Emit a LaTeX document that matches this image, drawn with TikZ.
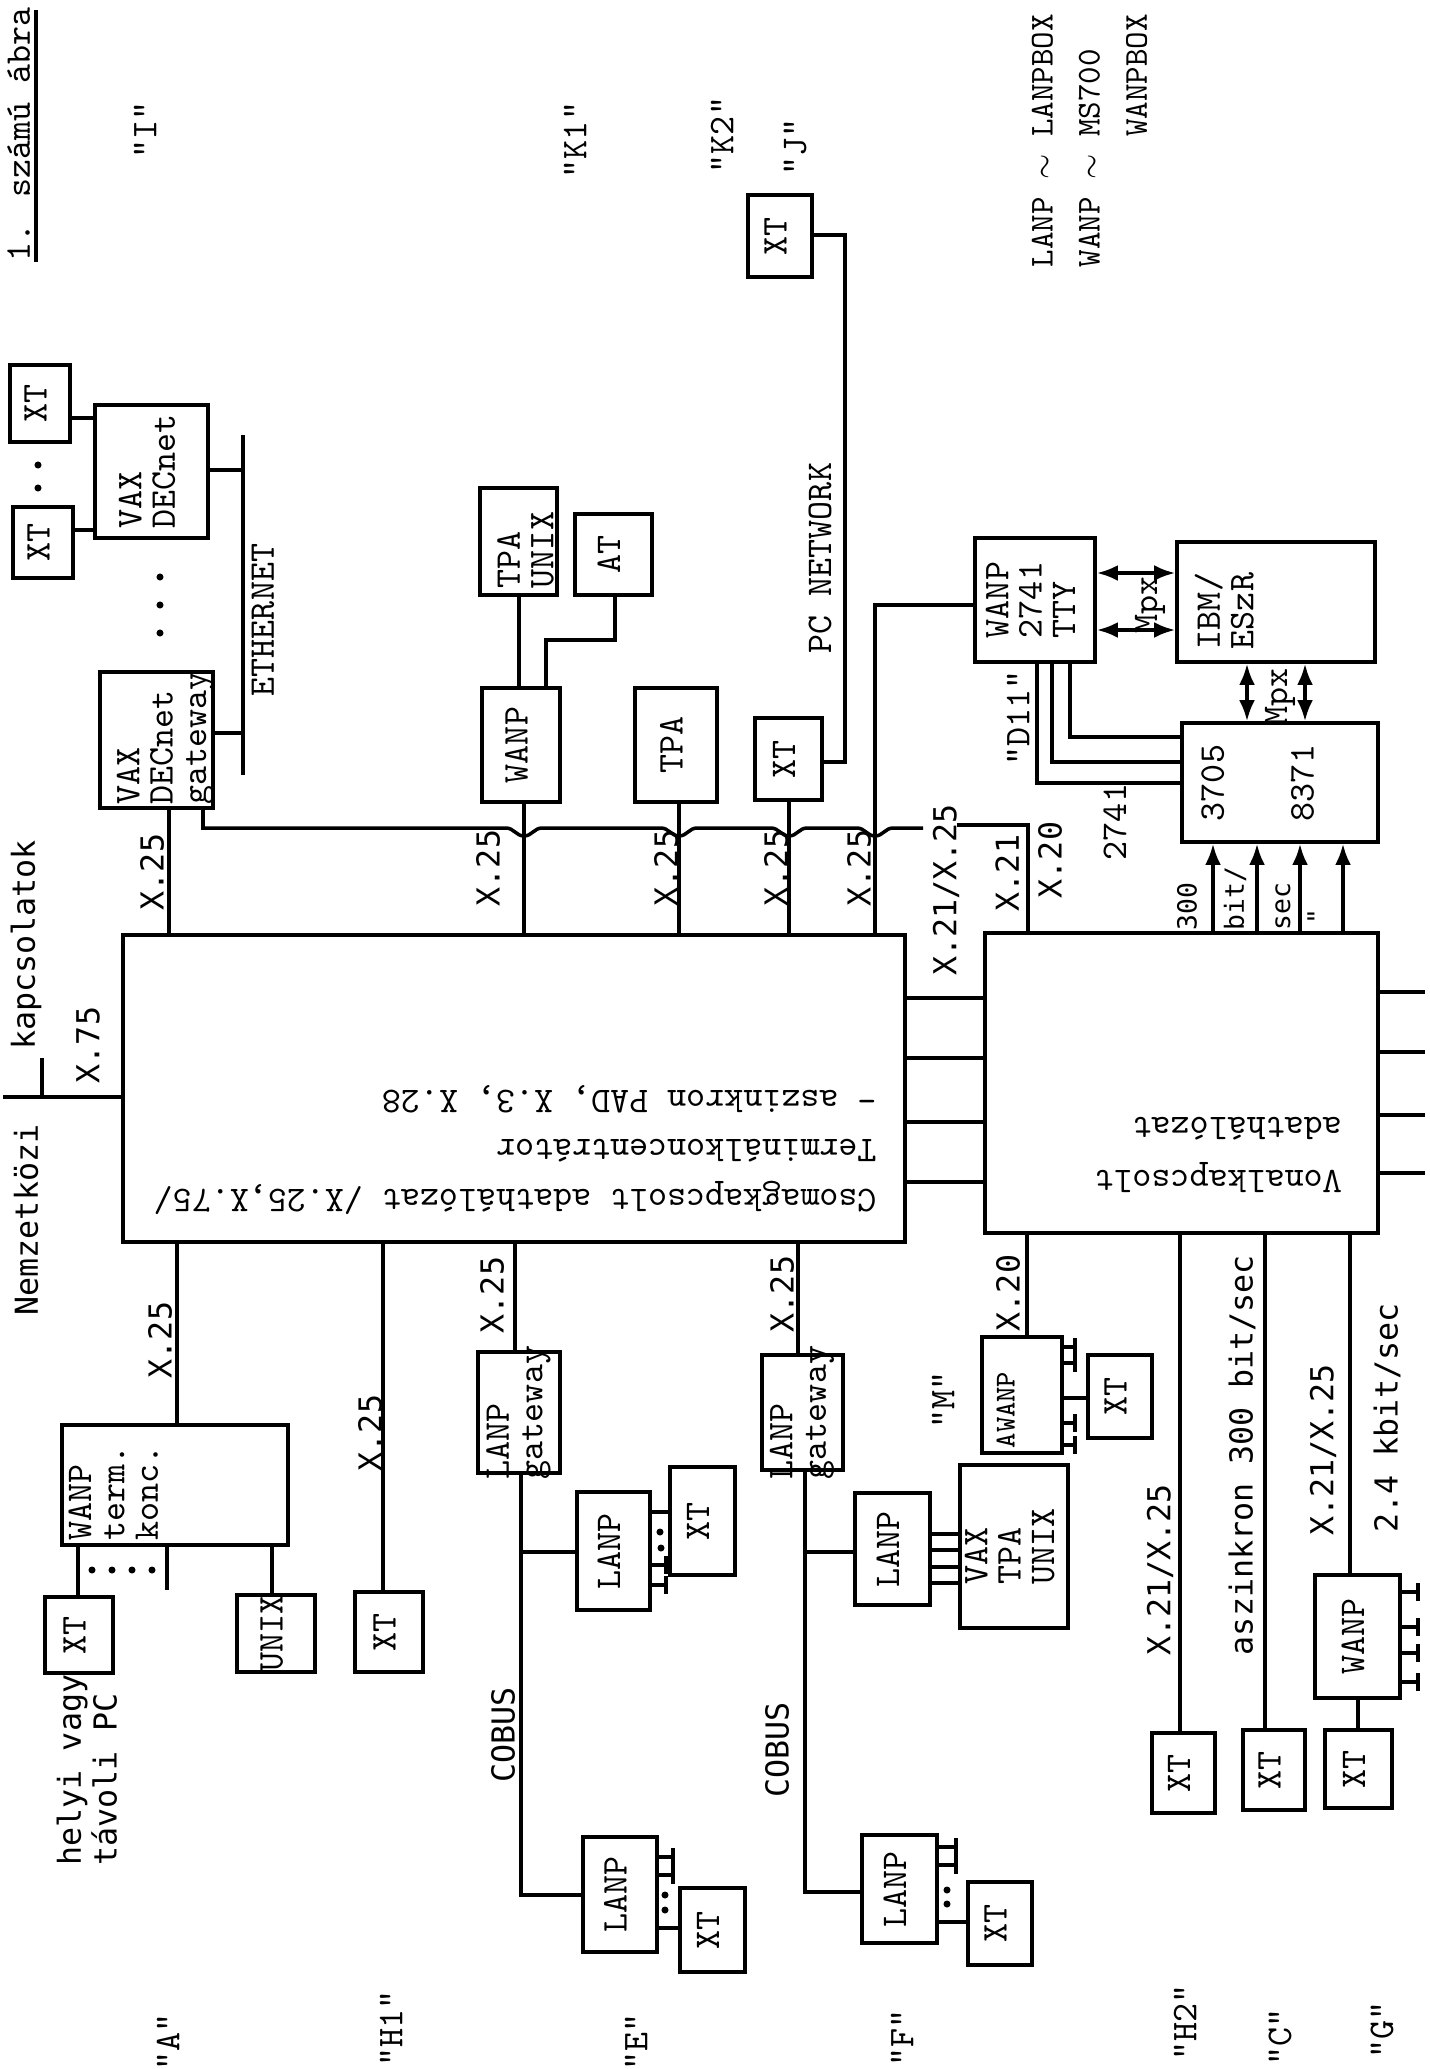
\documentclass[tikz,border=0pt]{standalone}
\usepackage{fontspec}
\usetikzlibrary{arrows.meta, fit}
\newfontfamily\gothicfont{DejaVu Sans Mono}
\newcommand{\boxfont}{\ttfamily\fontsize{10.3}{9.5}\selectfont}
\newcommand{\lblfont}{\gothicfont\fontsize{9}{9}\selectfont}
\newcommand{\up}[1]{\rotatebox{90}{\begin{tabular}{@{}l@{}}#1\end{tabular}}}
\tikzset{
    >={Latex[length=6pt,width=4.5pt]},
    % Lines
    wire/.style={line width=1pt},
    link/.style={wire, <->},
    feed/.style={wire, ->},
    stub/.style={wire, -{Bar[width=5pt]}},
    % Boxes
    blk/.style={draw, line width=1pt, inner sep=0pt, font=\boxfont},
    txt/.style={label={[tag]center:\up{#1}}},
    % Texts
    tag/.style={inner sep=0pt, font=\boxfont},
    rtag/.style={tag, rotate=90},
    lbl/.style={inner sep=0pt, font=\lblfont, rotate=90},
    small/.style={lbl, font=\gothicfont\fontsize{7.5}{7.5}\selectfont}
}

\begin{document}
\begin{tikzpicture}[x=0.01cm, y=-0.01cm]
\useasboundingbox (0,0) rectangle (1430,2069);

% title
\node[rtag, anchor=base west] (title) at (30,262) {1. számú ábra};
\draw[wire] (36,262) -- (36,10);

% group letters
\node[rtag] (colI) at (145,130) {"I"};
\node[rtag] (colKa) at (575,140) {"K1"};
\node[rtag] (colKb) at (722,135) {"K2"};
\node[rtag] (colJ) at (795,147) {"J"};
\node[rtag] (colA) at (168,2042) {"A"};
\node[rtag] (colHa) at (391,2028) {"H1"};
\node[rtag] (colE) at (636,2042) {"E"};
\node[rtag] (colF) at (902,2038) {"F"};
\node[rtag] (colHb) at (1185,2022) {"H2"};
\node[rtag] (colC) at (1280,2037) {"C"};
\node[rtag] (colG) at (1382,2030) {"G"};
\node[rtag] (colM) at (943,1400) {"M"};
\node[rtag] (colD) at (1018,718) {"D11"};

% legend
\node[rtag, anchor=north west, align=left, font=\ttfamily\fontsize{9.5}{13.4}\selectfont] (legend) at (1031,268)
    {LANP $\sim$ LANPBOX\\WANP $\sim$ MS700\\\phantom{WANP $\sim$ }WANPBOX};

% the two networks
\node[blk, fit={(123,935) (905,1242)}] (main) {};
\node[tag, rotate=180, align=left, font=\ttfamily\fontsize{10.3}{14.2}\selectfont] (mainTxt) at (515,1150)
    {Csomagkapcsolt adathálózat /X.25,X.75/\\Terminálkoncentrátor\\- aszinkron PAD, X.3, X.28};
\node[blk, fit={(985,933) (1378,1233)}] (vonal) {};
\node[tag, rotate=180, align=left, font=\ttfamily\fontsize{10.3}{15.3}\selectfont] (vonalTxt) at (1218,1155)
    {Vonalkapcsolt\\adathálózat};
\foreach \y in {998,1058,1122,1182}
    \draw[wire] (main.east |- 0,\y) -- (vonal.west |- 0,\y);
\foreach \y in {992,1052,1115,1173}
    \draw[wire] (vonal.east |- 0,\y) -- (1425,\y);
\node[lbl] at (946,890) {X.21/X.25};

% international link
\draw[wire] (main.west |- 0,1097) -- (3,1097);
\draw[wire] (42,1058) -- (42,1097);
\node[lbl] at (26,1220) {Nemzetközi};
\node[lbl] at (26,945) {kapcsolatok};
\node[lbl] at (88,1045) {X.75};

% "I": DECnet
\node[blk, fit={(10,365) (70,442)}, txt={XT}] (xtIa) {};
\node[blk, fit={(13,507) (73,578)}, txt={XT}] (xtIb) {};
\node[blk, fit={(95,405) (208,538)}, txt={VAX\\DECnet}] (vaxI) {};
\node[blk, fit={(100,672) (213,808)}] (gwI) {};
\node[tag] (gwITxt) at (166,738) {\up{VAX\\DECnet\\gateway}};
\coordinate (ethTop) at (243,435);
\coordinate (ethBot) at (243,775);
\draw[wire] (ethTop) -- (ethBot);
\node[rtag] (eth) at (263,620) {ETHERNET};
\draw[wire] (xtIa.east |- 0,418) -- (vaxI.west |- 0,418);
\draw[wire] (xtIb.east |- 0,530) -- (vaxI.west |- 0,530);
\draw[wire] (vaxI.east |- 0,470) -- (ethTop |- 0,470);
\draw[wire] (gwI.east |- 0,733) -- (ethTop |- 0,733);
\fill (38,465) circle[radius=1pt] (38,488) circle[radius=1pt];
\foreach \y in {577,605,633} \fill (160,\y) circle[radius=1pt];
\draw[wire] (169,0 |- gwI.south) -- (169,0 |- main.north);
\node[lbl] at (152,872) {X.25};
\draw[wire] (203,0 |- gwI.south) |- (506,828)
    to[out=0,in=180] (524,836) to[out=0,in=180] (542,828) -- (661,828)
    to[out=0,in=180] (679,836) to[out=0,in=180] (697,828) -- (771,828)
    to[out=0,in=180] (789,836) to[out=0,in=180] (807,828) -- (857,828)
    to[out=0,in=180] (875,836) to[out=0,in=180] (893,828) -- (923,828);

% "K1", "K2", "J"
\node[blk, fit={(480,488) (557,595)}] (tpaUx) {};
\node[tag] (tpaUxTxt) at (530,550) {\up{TPA\\UNIX}};
\node[blk, fit={(575,514) (652,595)}, txt={AT}] (atK) {};
\node[blk, fit={(482,688) (560,802)}, txt={WANP}] (wanpK) {};
\node[blk, fit={(635,688) (717,802)}, txt={TPA}] (tpaK) {};
\node[blk, fit={(755,718) (822,800)}, txt={XT}] (xtKb) {};
\node[blk, fit={(748,195) (812,277)}, txt={XT}] (xtJ) {};
\draw[wire] (519,0 |- wanpK.north) -- (519,0 |- tpaUx.south);
\draw[wire] (546,0 |- wanpK.north) |- (615,640) -- (615,0 |- atK.south);
\draw[wire] (524,0 |- wanpK.south) -- (524,0 |- main.north);
\draw[wire] (679,0 |- tpaK.south) -- (679,0 |- main.north);
\draw[wire] (789,0 |- xtKb.south) -- (789,0 |- main.north);
\draw[wire] (xtKb.east |- 0,762) -| (845,235) -- (xtJ.east |- 0,235);
\node[rtag] (pcnet) at (820,558) {PC NETWORK};
\node[lbl] at (488,868) {X.25};
\node[lbl] at (666,868) {X.25};
\node[lbl] at (776,868) {X.25};
\node[lbl] at (859,868) {X.25};

% host side
\node[blk, fit={(975,538) (1095,662)}, txt={WANP\\2741\\TTY}] (wanpT) {};
\node[blk, fit={(1177,542) (1375,662)}] (ibm) {};
\node[tag] (ibmTxt) at (1229,611) {\up{IBM/\\ESzR}};
\node[blk, fit={(1182,723) (1378,842)}] (ncp) {};
\node[tag] (ncpTxt) at (1262,783) {\up{3705\\[16pt]8371}};
\draw[wire] (875,0 |- main.north) |- (wanpT.west |- 0,605);
\draw[link] (wanpT.east |- 0,573) -- (ibm.west |- 0,573);
\draw[link] (wanpT.east |- 0,630) -- (ibm.west |- 0,630);
\node[rtag] (mpxA) at (1150,605) {Mpx};
\draw[link] (1247,0 |- ibm.south) -- (1247,0 |- ncp.north);
\draw[link] (1305,0 |- ibm.south) -- (1305,0 |- ncp.north);
\node[rtag] (mpxB) at (1280,697) {Mpx};
\draw[wire] (1070,0 |- wanpT.south) |- (ncp.west |- 0,737);
\draw[wire] (1052,0 |- wanpT.south) |- (ncp.west |- 0,762);
\draw[wire] (1037,0 |- wanpT.south) |- (ncp.west |- 0,783);
\node[rtag] (tty) at (1115,822) {2741};
\foreach \x in {1213,1257,1300,1343}
    \draw[feed] (\x,0 |- vonal.north) -- (\x,0 |- ncp.south);
\node[small, anchor=west] at (1187,931) {300};
\node[small, anchor=west] at (1235,931) {bit/};
\node[small, anchor=west] at (1283,931) {sec};
\node[small, anchor=west] at (1317,925) {"};
\draw[wire] (1028,0 |- vonal.north) |- (957,825);
\node[lbl] at (1007,873) {X.21};
\node[lbl] at (1050,860) {X.20};

% "A"
\node[blk, fit={(62,1425) (288,1545)}] (wanpA) {};
\node[tag, anchor=south west] (wanpATxt) at (67,1541) {\up{WANP\\term.\\konc.}};
\draw[wire] (177,0 |- main.south) -- (177,0 |- wanpA.north);
\node[lbl] at (160,1340) {X.25};
\node[blk, fit={(45,1597) (113,1673)}, txt={XT}] (xtA) {};
\node[blk, fit={(237,1595) (315,1672)}, txt={UNIX}] (unixA) {};
\draw[wire] (78,0 |- wanpA.south) -- (78,0 |- xtA.north);
\draw[wire] (272,0 |- wanpA.south) -- (272,0 |- unixA.north);
\draw[wire] (167,0 |- wanpA.south) -- (167,1590);
\foreach \x in {92,112,132,152} \fill (\x,1570) circle[radius=1pt];
\node[lbl, anchor=north west, align=left, font=\gothicfont\fontsize{9}{8.5}\selectfont] (pcA) at (56,1866)
    {helyi vagy\\távoli PC};

% "H1"
\node[blk, fit={(355,1592) (423,1672)}, txt={XT}] (xtHa) {};
\draw[wire] (383,0 |- main.south) -- (383,0 |- xtHa.north);
\node[lbl] at (370,1433) {X.25};

% "E"
\node[blk, fit={(478,1352) (560,1473)}, txt={LANP\\gateway}] (gwE) {};
\draw[wire] (515,0 |- main.south) -- (515,0 |- gwE.north);
\node[lbl] at (492,1295) {X.25};
\node[blk, fit={(577,1492) (650,1610)}, txt={LANP}] (lanpEa) {};
\node[blk, fit={(670,1467) (735,1575)}, txt={XT}] (xtEa) {};
\node[blk, fit={(583,1837) (657,1952)}, txt={LANP}] (lanpEb) {};
\node[blk, fit={(680,1888) (745,1972)}, txt={XT}] (xtEb) {};
\draw[wire] (521,0 |- gwE.south) |- (lanpEb.west |- 0,1895);
\draw[wire] (521,1552) -- (lanpEa.west |- 0,1552);
\node[lbl] at (503,1735) {COBUS};
\draw[wire] (lanpEa.east |- 0,1512) -- (xtEa.west |- 0,1512);
\draw[stub] (lanpEa.east |- 0,1565) -- (668,1565);
\draw[stub] (lanpEa.east |- 0,1585) -- (668,1585);
\fill (660,1532) circle[radius=1pt] (661,1548) circle[radius=1pt];
\draw[wire] (lanpEb.east |- 0,1928) -- (xtEb.west |- 0,1928);
\draw[stub] (lanpEb.east |- 0,1857) -- (675,1857);
\draw[stub] (lanpEb.east |- 0,1875) -- (675,1875);
\fill (665,1895) circle[radius=1pt] (665,1910) circle[radius=1pt];

% "F"
\node[blk, fit={(762,1355) (843,1470)}, txt={LANP\\gateway}] (gwF) {};
\draw[wire] (798,0 |- main.south) -- (798,0 |- gwF.north);
\node[lbl] at (782,1294) {X.25};
\node[blk, fit={(855,1493) (930,1605)}, txt={LANP}] (lanpFa) {};
\node[blk, fit={(960,1465) (1068,1628)}, txt={VAX\\TPA\\UNIX}] (vaxF) {};
\node[blk, fit={(862,1835) (937,1943)}, txt={LANP}] (lanpFb) {};
\node[blk, fit={(968,1882) (1032,1965)}, txt={XT}] (xtFb) {};
\draw[wire] (805,0 |- gwF.south) |- (lanpFb.west |- 0,1892);
\draw[wire] (805,1552) -- (lanpFa.west |- 0,1552);
\node[lbl] at (777,1750) {COBUS};
\foreach \y in {1534,1550,1567,1583}
    \draw[wire] (lanpFa.east |- 0,\y) -- (vaxF.west |- 0,\y);
\draw[wire] (lanpFb.east |- 0,1922) -- (xtFb.west |- 0,1922);
\draw[stub] (lanpFb.east |- 0,1847) -- (958,1847);
\draw[stub] (lanpFb.east |- 0,1865) -- (958,1865);
\fill (947,1890) circle[radius=1pt] (947,1904) circle[radius=1pt];

% "M"
\node[blk, fit={(982,1337) (1062,1453)}] (awanp) {};
\node[tag, font=\ttfamily\fontsize{8.2}{8}\selectfont] (awanpTxt) at (1009,1410) {\up{AWANP}};
\draw[wire] (1027,0 |- vonal.south) -- (1027,0 |- awanp.north);
\node[lbl] at (1008,1293) {X.20};
\node[blk, fit={(1088,1355) (1152,1438)}, txt={XT}] (xtM) {};
\draw[wire] (awanp.east |- 0,1398) -- (xtM.west |- 0,1398);
\foreach \y in {1347,1363,1423,1445}
    \draw[stub] (awanp.east |- 0,\y) -- (1077,\y);

% "H2", "C", "G"
\node[blk, fit={(1152,1733) (1215,1813)}, txt={XT}] (xtHb) {};
\draw[wire] (1180,0 |- vonal.south) -- (1180,0 |- xtHb.north);
\node[lbl] at (1160,1570) {X.21/X.25};
\node[blk, fit={(1243,1730) (1305,1810)}, txt={XT}] (xtC) {};
\draw[wire] (1265,0 |- vonal.south) -- (1265,0 |- xtC.north);
\node[lbl] at (1242,1455) {aszinkron 300 bit/sec};
\node[blk, fit={(1315,1575) (1400,1698)}, txt={WANP}] (wanpG) {};
\draw[wire] (1350,0 |- vonal.south) -- (1350,0 |- wanpG.north);
\node[lbl] at (1323,1450) {X.21/X.25};
\node[lbl] at (1387,1418) {2.4 kbit/sec};
\node[blk, fit={(1325,1730) (1392,1808)}, txt={XT}] (xtG) {};
\draw[wire] (1358,0 |- wanpG.south) -- (1358,0 |- xtG.north);
\foreach \y in {1592,1627,1653,1682}
    \draw[stub] (wanpG.east |- 0,\y) -- (1420,\y);

\end{tikzpicture}
\end{document}
